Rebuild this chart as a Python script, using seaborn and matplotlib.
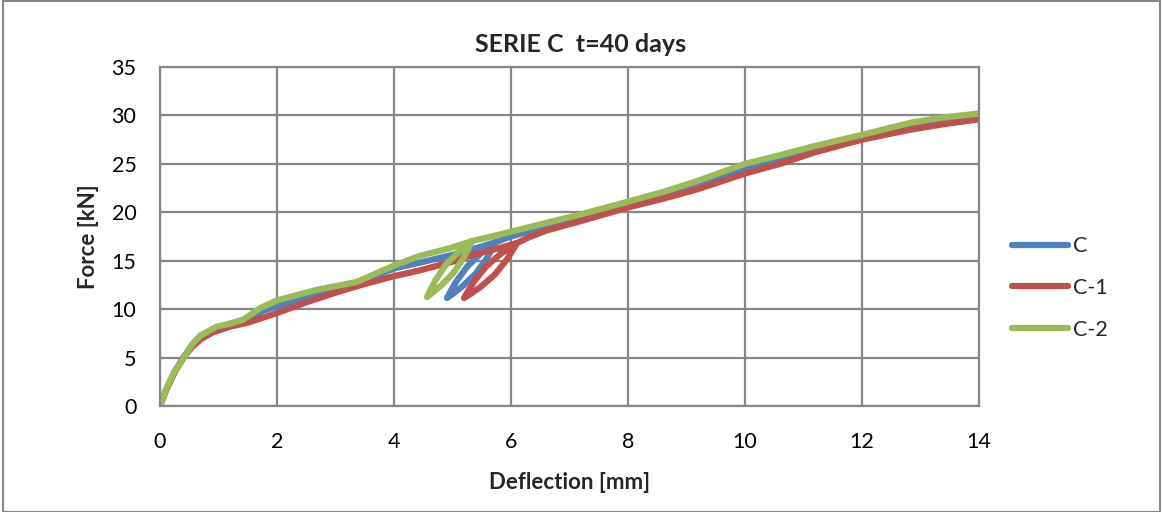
import matplotlib
matplotlib.use("Agg")
import matplotlib.pyplot as plt
import seaborn as sns
import pandas as pd
from matplotlib.patches import Rectangle

# Series C - deflection [mm] / force [kN] (incl. unload/reload loops)
c_x = [0, 0.1, 0.25, 0.4, 0.55, 0.7, 0.9, 1.2, 1.5, 1.75, 2.0, 2.5, 3.0, 3.5, 4.0, 4.44, 5.0, 5.4, 5.744,
       5.682, 5.584, 5.396, 5.165, 5.012, 4.906,
       4.968, 5.065, 5.254, 5.484, 5.638, 5.744, 6.0, 6.3, 6.6, 7.2, 8.0, 8.6, 9.2, 10.0, 10.6, 11.2, 12.0,
       12.8, 13.4, 14.0]
c_y = [0, 1.6, 3.5, 5.0, 6.3, 7.3, 7.9, 8.5, 9.0, 9.8, 10.3, 11.2, 12.0, 13.0, 14.2, 14.8, 15.6, 16.3, 16.93,
       16.24, 15.22, 13.67, 12.33, 11.61, 11.15,
       11.84, 12.86, 14.41, 15.75, 16.47, 16.93, 17.5, 18.0, 18.5, 19.5, 20.8, 21.7, 22.8, 24.5, 25.5, 26.3, 27.6,
       28.7, 29.4, 30.0]

c1_x = [0, 0.1, 0.25, 0.4, 0.55, 0.7, 0.9, 1.2, 1.5, 1.75, 2.0, 2.5, 3.0, 3.5, 4.0, 4.44, 5.0, 5.4, 5.8, 6.103,
        6.035, 5.928, 5.723, 5.475, 5.310, 5.197,
        5.264, 5.371, 5.576, 5.824, 5.989, 6.103, 6.3, 6.6, 7.2, 8.0, 8.6, 9.2, 10.0, 10.6, 11.2, 12.0,
        12.8, 13.4, 14.0]
c1_y = [0, 1.6, 3.5, 5.0, 6.1, 6.9, 7.6, 8.2, 8.6, 9.1, 9.6, 10.7, 11.7, 12.6, 13.4, 14.0, 14.9, 15.7, 16.3, 16.83,
        16.13, 15.11, 13.56, 12.27, 11.58, 11.15,
        11.85, 12.87, 14.42, 15.71, 16.39, 16.83, 17.4, 18.1, 19.1, 20.5, 21.4, 22.4, 24.0, 25.0, 26.2, 27.5,
        28.5, 29.1, 29.6]

c2_x = [0, 0.1, 0.25, 0.4, 0.55, 0.7, 0.97, 1.2, 1.42, 1.71, 2.0, 2.68, 3.36, 4.0, 4.44, 4.96, 5.333,
        5.279, 5.193, 5.022, 4.808, 4.664, 4.564,
        4.618, 4.705, 4.875, 5.089, 5.234, 5.333, 5.6, 6.0, 6.6, 7.2, 8.0, 8.6, 9.17, 10.0, 10.6, 11.16, 12.0,
        12.87, 13.4, 14.0]
c2_y = [0, 1.7, 3.6, 4.9, 6.4, 7.3, 8.2, 8.5, 8.9, 10.1, 10.9, 12.0, 12.8, 14.5, 15.5, 16.3, 17.03,
        16.35, 15.34, 13.79, 12.45, 11.72, 11.25,
        11.94, 12.95, 14.50, 15.84, 16.57, 17.03, 17.4, 18.0, 18.9, 19.8, 21.1, 22.1, 23.2, 25.0, 25.9, 26.8, 28.0,
        29.3, 29.8, 30.2]

series_names = ["C", "C-1", "C-2"]
series_colors = ["#4F81BD", "#C0504D", "#9BBB59"]
x_ticks = [0, 2, 4, 6, 8, 10, 12, 14]
y_ticks = [0, 5, 10, 15, 20, 25, 30, 35]

sns.set_style("white")
plt.rcParams["font.family"] = ["Lato", "DejaVu Sans"]

fig = plt.figure(figsize=(11.62, 5.12), dpi=100)
ax = fig.add_axes([160 / 1162, 1 - 406 / 512, 819 / 1162, 339 / 512])

for name, xs, ys, col in zip(series_names, [c_x, c1_x, c2_x], [c_y, c1_y, c2_y], series_colors):
    df = pd.DataFrame({"x": xs, "y": ys})
    sns.lineplot(data=df, x="x", y="y", sort=False, estimator=None, color=col,
                 linewidth=4.5, label=name, ax=ax,
                 solid_joinstyle="round", solid_capstyle="round")

ax.set_xlim(0, 14)
ax.set_ylim(0, 35)
ax.set_xticks(x_ticks)
ax.set_yticks(y_ticks)
ax.grid(True, color="#868686", linewidth=1.6)
ax.set_axisbelow(True)
for sp in ax.spines.values():
    sp.set_color("#868686")
    sp.set_linewidth(1.6)
ax.tick_params(axis="both", length=0, labelsize=15.5, colors="black")
ax.tick_params(axis="x", pad=19)
ax.tick_params(axis="y", pad=17)

ax.set_xlabel("Deflection [mm]", fontsize=16, fontweight="bold")
ax.set_ylabel("Force [kN]", fontsize=16, fontweight="bold")
ax.xaxis.set_label_coords(0.5, -0.195)
ax.yaxis.set_label_coords(-0.0745, 0.5)

fig.text(581 / 1162, 1 - 45 / 512, "SERIE C  t=40 days", ha="center", va="center",
         fontsize=18, fontweight="bold")

ax.legend(loc="center left", bbox_to_anchor=(1012 / 1162, 1 - 288 / 512),
          bbox_transform=fig.transFigure, frameon=False, fontsize=15.5,
          handlelength=2.6, handletextpad=0.25, labelspacing=1.0,
          borderpad=0, borderaxespad=0)

fig.patches.append(Rectangle((3 / 1162, 0), 1157 / 1162, 1 - 1 / 512, transform=fig.transFigure,
                             fill=False, edgecolor="#868686", linewidth=1.5))

fig.savefig("out.png", dpi=100)
